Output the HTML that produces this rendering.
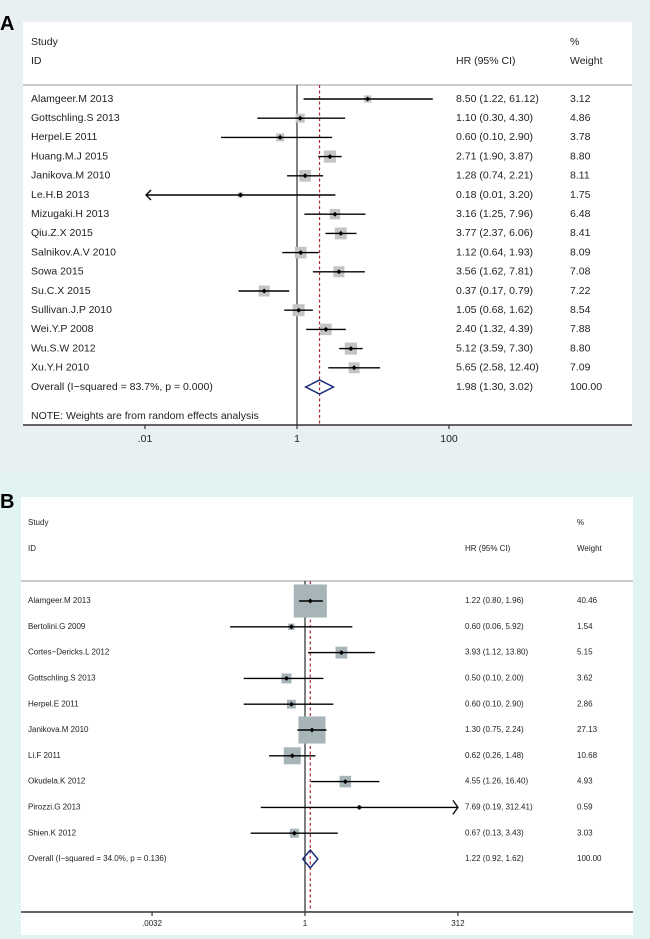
<!DOCTYPE html>
<html><head><meta charset="utf-8"><style>
body{margin:0;width:650px;height:939px;overflow:hidden;background:#e8f0f2;font-family:"Liberation Sans",sans-serif}
svg{display:block}
</style></head><body>
<svg id="svg" width="650" height="939" xmlns="http://www.w3.org/2000/svg">
<rect x="0" y="472" width="650" height="467" fill="#e2f4f2"/>
<rect x="23" y="22" width="609" height="403" fill="#fff"/>
<rect x="21" y="497" width="612" height="438" fill="#fff"/>
<text x="0" y="30" font-size="20" font-weight="bold">A</text>
<text x="0" y="508" font-size="20" font-weight="bold">B</text>
<g id="ga"></g>
<g id="gb"></g>
</svg>
<script>
const aStudies=["Alamgeer.M 2013","Gottschling.S 2013","Herpel.E 2011","Huang.M.J 2015","Janikova.M 2010","Le.H.B 2013","Mizugaki.H 2013","Qiu.Z.X 2015","Salnikov.A.V 2010","Sowa 2015","Su.C.X 2015","Sullivan.J.P 2010","Wei.Y.P 2008","Wu.S.W 2012","Xu.Y.H 2010"];
const aHR=[8.50,1.10,0.60,2.71,1.28,0.18,3.16,3.77,1.12,3.56,0.37,1.05,2.40,5.12,5.65];
const aLo=[1.22,0.30,0.10,1.90,0.74,0.01,1.25,2.37,0.64,1.62,0.17,0.68,1.32,3.59,2.58];
const aHi=[61.12,4.30,2.90,3.87,2.21,3.20,7.96,6.06,1.93,7.81,0.79,1.62,4.39,7.30,12.40];
const aW=[3.12,4.86,3.78,8.80,8.11,1.75,6.48,8.41,8.09,7.08,7.22,8.54,7.88,8.80,7.09];
const aOverall=[1.98,1.30,3.02];
const aOverallLabel="Overall  (I\u2212squared = 83.7%, p = 0.000)";
const aTicks=[0.01,1,100];
const aTickLabels=[".01","1","100"];

const bStudies=["Alamgeer.M 2013","Bertolini.G 2009","Cortes\u2212Dericks.L 2012","Gottschling.S  2013","Herpel.E 2011","Janikova.M 2010","Li.F 2011","Okudela.K 2012","Pirozzi.G 2013","Shien.K 2012"];
const bHR=[1.22,0.60,3.93,0.50,0.60,1.30,0.62,4.55,7.69,0.67];
const bLo=[0.80,0.06,1.12,0.10,0.10,0.75,0.26,1.26,0.19,0.13];
const bHi=[1.96,5.92,13.80,2.00,2.90,2.24,1.48,16.40,312.41,3.43];
const bW=[40.46,1.54,5.15,3.62,2.86,27.13,10.68,4.93,0.59,3.03];
const bOverall=[1.22,0.92,1.62];
const bOverallLabel="Overall  (I\u2212squared = 34.0%, p = 0.136)";
const bTicks=[0.0032,1,312];
const bTickLabels=[".0032","1","312"];

const NS="http://www.w3.org/2000/svg";
function mk(g,tag,attrs){const e=document.createElementNS(NS,tag);for(const k in attrs)e.setAttribute(k,attrs[k]);g.appendChild(e);return e;}
function txt(g,x,y,s,fs,anchor){const t=mk(g,'text',{x:x,y:y,'font-size':fs,'text-anchor':anchor||'start','dominant-baseline':'middle',fill:'#222'});t.textContent=s;return t;}

function draw(g,cfg){
  const X=v=>cfg.x1+cfg.ppd*Math.log10(v);
  const bound=[cfg.left,cfg.right];
  const clamp=v=>Math.max(cfg.axL,Math.min(cfg.axR,v));
  let t;
  t=txt(g,cfg.tx,cfg.yStudy,"Study",cfg.fs);
  
  
  t=txt(g,cfg.tx,cfg.yID,"ID",cfg.fs);
  
  
  t=txt(g,cfg.hx,cfg.yID,"HR (95% CI)",cfg.fs);
  
  
  t=txt(g,cfg.wx,cfg.yStudy,"%",cfg.fs);
  
  
  t=txt(g,cfg.wx,cfg.yID,"Weight",cfg.fs);
  
  
  let l=mk(g,'line',{x1:cfg.left,x2:cfg.right,y1:cfg.sep,y2:cfg.sep,stroke:'#ccc','stroke-width':2});
  
  
  l=mk(g,'line',{x1:X(1),x2:X(1),y1:cfg.sep,y2:cfg.axY,stroke:'#000','stroke-width':1});
  
  
  l=mk(g,'line',{x1:X(cfg.overall[0]),x2:X(cfg.overall[0]),y1:cfg.sep,y2:cfg.axY,stroke:'#b22a3a','stroke-width':1.2,'stroke-dasharray':'3,2.5'});
  
  
  cfg.studies.forEach((s,i)=>{
    const y=cfg.y0+i*cfg.dy;
    const row=mk(g,'g',{});
    
    
    const side=cfg.k*Math.sqrt(cfg.w[i]);
    const cx=X(cfg.hr[i]);
    const b=mk(row,'rect',{x:cx-side/2,y:y-side/2,width:side,height:side,fill:cfg.boxFill});
    
    
    const lo=clamp(X(cfg.lo[i])),hi=clamp(X(cfg.hi[i]));
    const ci=mk(row,'line',{x1:lo,x2:hi,y1:y,y2:y,stroke:'#000','stroke-width':1.4});
    
    
    if(X(cfg.lo[i])<=cfg.axL+0.5){const a=mk(row,'polyline',{points:`${lo+5},${y-5} ${lo},${y} ${lo+5},${y+5}`,fill:'none',stroke:'#000','stroke-width':1.3});}
    if(X(cfg.hi[i])>=cfg.axR-0.5){const a=mk(row,'polyline',{points:`${hi-5},${y-7} ${hi},${y} ${hi-5},${y+7}`,fill:'none',stroke:'#000','stroke-width':1.3});}
    const p=mk(row,'path',{d:`M${cx-2.5},${y}L${cx},${y-2.5}L${cx+2.5},${y}L${cx},${y+2.5}Z`,fill:'#000'});
    
    
    let tt=txt(row,cfg.tx,y,s,cfg.fs);
    
    
    tt=txt(row,cfg.hx,y,`${cfg.hr[i].toFixed(2)} (${cfg.lo[i].toFixed(2)}, ${cfg.hi[i].toFixed(2)})`,cfg.fs);
    
    
    tt=txt(row,cfg.wx,y,cfg.w[i].toFixed(2),cfg.fs);
    
    
  });
  const yo=cfg.y0+cfg.studies.length*cfg.dy;
  const o=cfg.overall;
  const d=mk(g,'path',{d:`M${X(o[1])},${yo}L${X(o[0])},${yo-cfg.dh}L${X(o[2])},${yo}L${X(o[0])},${yo+cfg.dh}Z`,fill:'none',stroke:'#1a2a7a','stroke-width':1.5});
  
  
  t=txt(g,cfg.tx,yo,cfg.overallLabel,cfg.fs);
  
  
  t=txt(g,cfg.hx,yo,`${o[0].toFixed(2)} (${o[1].toFixed(2)}, ${o[2].toFixed(2)})`,cfg.fs);
  
  
  t=txt(g,cfg.wx,yo,"100.00",cfg.fs);
  
  
  if(cfg.note){t=txt(g,cfg.tx,cfg.noteY,cfg.note,cfg.fs);}
  l=mk(g,'line',{x1:cfg.left,x2:cfg.right,y1:cfg.axY,y2:cfg.axY,stroke:'#333','stroke-width':1.5});
  
  
  cfg.ticks.forEach((v,i)=>{
    const tk=mk(g,'line',{x1:X(v),x2:X(v),y1:cfg.axY,y2:cfg.axY+4,stroke:'#333','stroke-width':1.2});
    
    
    const tl=txt(g,X(v),cfg.axY+cfg.tickDy,cfg.tickLabels[i],cfg.fs,'middle');
    
    
  });
}
draw(document.getElementById('ga'),{x1:297,ppd:76,left:23,right:632,axL:146,axR:632,tx:31,hx:456,wx:570,fs:10.5,
  yStudy:42,yID:61,sep:85,y0:99,dy:19.2,axY:425,tickDy:14,k:4.1,boxFill:'#c4c4c4',dh:7,
  studies:aStudies,hr:aHR,lo:aLo,hi:aHi,w:aW,overall:aOverall,overallLabel:aOverallLabel,
  note:"NOTE: Weights are from random effects analysis",noteY:416,ticks:aTicks,tickLabels:aTickLabels});
draw(document.getElementById('gb'),{x1:305,ppd:61.3,left:21,right:633,axL:152,axR:458,tx:28,hx:465,wx:577,fs:8,
  yStudy:523,yID:549,sep:581,y0:601,dy:25.8,axY:912,tickDy:12,k:5.2,boxFill:'#a7b5b8',dh:9,
  studies:bStudies,hr:bHR,lo:bLo,hi:bHi,w:bW,overall:bOverall,overallLabel:bOverallLabel,
  note:null,ticks:bTicks,tickLabels:bTickLabels});
</script>
</body></html>
